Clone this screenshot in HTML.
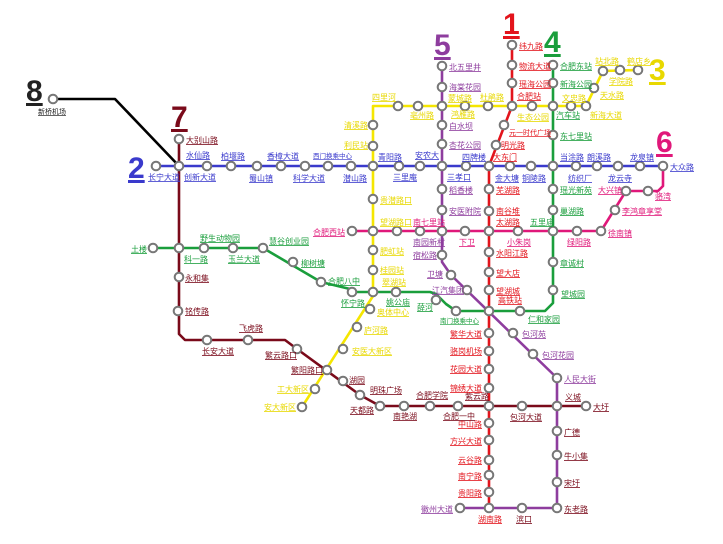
<!DOCTYPE html>
<html><head><meta charset="utf-8"><style>
html,body{margin:0;padding:0;background:#fff;width:723px;height:544px;overflow:hidden}
svg{display:block}
text{font-family:"Liberation Sans","Noto Sans CJK SC",sans-serif;font-size:8px;text-decoration:underline}
.s{fill:#fff;stroke:#777;stroke-width:2}
.n{font-size:30px;font-weight:bold}
.bl{fill:#3a3acc}.rd{fill:#e3141c}.gr{fill:#1a9e3c}.ye{fill:#e8d800}.pu{fill:#8e3d9e}.pk{fill:#e0187a}.dr{fill:#7a0a1a}.bk{fill:#222}
</style></head><body>
<svg width="723" height="544" viewBox="0 0 723 544" xmlns="http://www.w3.org/2000/svg">
<g fill="none" stroke-width="2.6" stroke-linejoin="round">
<!-- line 8 -->
<polyline stroke="#000" points="53,99 115,99 179,166"/>
<!-- line 7 -->
<polyline stroke="#7a0a1a" points="179,139 179,334 185,340 285,340 297,349 360,395 380,406 586,406"/>
<!-- line 2 -->
<polyline stroke="#3a3acc" points="156,166 663,166"/>
<!-- line 1 -->
<polyline stroke="#e3141c" points="512,45 512,106 489,166 489,508"/>
<!-- line 4 -->
<polyline stroke="#1a9e3c" points="553,65 553,303 545,311 456,311 446,304 436,294 430,292 356,292 350,289 321,282 263,248 153,248"/>
<!-- line 3 -->
<polyline stroke="#f5e600" points="638,70 603,71 586,106 373,106 373,296 302,407"/>
<!-- line 5 -->
<polyline stroke="#8e3d9e" points="442,66 442,262 451,275 557,378 557,508 460,508"/>
<!-- line 6 -->
<polyline stroke="#e0187a" points="352,231 601,231 626,191 658,191 663,186 663,166"/>
</g>
<g class="s-all">
<!-- 8 -->
<circle class="s" cx="53" cy="99" r="4.3"/>
<!-- 7 -->
<circle class="s" cx="179" cy="139" r="4.3"/><circle class="s" cx="179" cy="166" r="4.3"/><circle class="s" cx="179" cy="248" r="4.3"/><circle class="s" cx="179" cy="277" r="4.3"/><circle class="s" cx="178" cy="311" r="4.3"/><circle class="s" cx="207" cy="340" r="4.3"/><circle class="s" cx="248" cy="340" r="4.3"/><circle class="s" cx="297" cy="349" r="4.3"/><circle class="s" cx="327" cy="370" r="4.3"/><circle class="s" cx="343" cy="381" r="4.3"/><circle class="s" cx="360" cy="395" r="4.3"/><circle class="s" cx="380" cy="406" r="4.3"/><circle class="s" cx="404" cy="406" r="4.3"/><circle class="s" cx="430" cy="406" r="4.3"/><circle class="s" cx="458" cy="406" r="4.3"/><circle class="s" cx="489" cy="406" r="4.3"/><circle class="s" cx="522" cy="406" r="4.3"/><circle class="s" cx="557" cy="406" r="4.3"/><circle class="s" cx="586" cy="406" r="4.3"/>
<!-- 2 -->
<circle class="s" cx="156" cy="166" r="4.3"/><circle class="s" cx="207" cy="166" r="4.3"/><circle class="s" cx="231" cy="166" r="4.3"/><circle class="s" cx="257" cy="166" r="4.3"/><circle class="s" cx="281" cy="166" r="4.3"/><circle class="s" cx="305" cy="166" r="4.3"/><circle class="s" cx="328" cy="166" r="4.3"/><circle class="s" cx="351" cy="166" r="4.3"/><circle class="s" cx="373" cy="166" r="4.3"/><circle class="s" cx="399" cy="166" r="4.3"/><circle class="s" cx="420" cy="166" r="4.3"/><circle class="s" cx="442" cy="166" r="4.3"/><circle class="s" cx="466" cy="166" r="4.3"/><circle class="s" cx="489" cy="166" r="4.3"/><circle class="s" cx="510" cy="166" r="4.3"/><circle class="s" cx="531" cy="166" r="4.3"/><circle class="s" cx="553" cy="166" r="4.3"/><circle class="s" cx="576" cy="166" r="4.3"/><circle class="s" cx="597" cy="166" r="4.3"/><circle class="s" cx="618" cy="166" r="4.3"/><circle class="s" cx="640" cy="166" r="4.3"/><circle class="s" cx="663" cy="166" r="4.3"/>
<!-- 1 -->
<circle class="s" cx="512" cy="45" r="4.3"/><circle class="s" cx="512" cy="65" r="4.3"/><circle class="s" cx="512" cy="83" r="4.3"/><circle class="s" cx="512" cy="106" r="4.3"/><circle class="s" cx="504" cy="125" r="4.3"/><circle class="s" cx="496" cy="145" r="4.3"/><circle class="s" cx="489" cy="189" r="4.3"/><circle class="s" cx="489" cy="211" r="4.3"/><circle class="s" cx="489" cy="231" r="4.3"/><circle class="s" cx="489" cy="252" r="4.3"/><circle class="s" cx="489" cy="272" r="4.3"/><circle class="s" cx="489" cy="290" r="4.3"/><circle class="s" cx="489" cy="311" r="4.3"/><circle class="s" cx="489" cy="333" r="4.3"/><circle class="s" cx="489" cy="351" r="4.3"/><circle class="s" cx="489" cy="369" r="4.3"/><circle class="s" cx="489" cy="388" r="4.3"/><circle class="s" cx="489" cy="423" r="4.3"/><circle class="s" cx="489" cy="440" r="4.3"/><circle class="s" cx="489" cy="460" r="4.3"/><circle class="s" cx="489" cy="475" r="4.3"/><circle class="s" cx="489" cy="492" r="4.3"/><circle class="s" cx="489" cy="508" r="4.3"/>
<!-- 4 -->
<circle class="s" cx="553" cy="65" r="4.3"/><circle class="s" cx="553" cy="83" r="4.3"/><circle class="s" cx="553" cy="106" r="4.3"/><circle class="s" cx="553" cy="135" r="4.3"/><circle class="s" cx="553" cy="189" r="4.3"/><circle class="s" cx="553" cy="210" r="4.3"/><circle class="s" cx="553" cy="231" r="4.3"/><circle class="s" cx="553" cy="262" r="4.3"/><circle class="s" cx="553" cy="290" r="4.3"/><circle class="s" cx="520" cy="311" r="4.3"/><circle class="s" cx="456" cy="311" r="4.3"/><circle class="s" cx="436" cy="300" r="4.3"/><circle class="s" cx="396" cy="292" r="4.3"/><circle class="s" cx="373" cy="292" r="4.3"/><circle class="s" cx="352" cy="292" r="4.3"/><circle class="s" cx="321" cy="282" r="4.3"/><circle class="s" cx="293" cy="262" r="4.3"/><circle class="s" cx="263" cy="248" r="4.3"/><circle class="s" cx="233" cy="248" r="4.3"/><circle class="s" cx="204" cy="248" r="4.3"/><circle class="s" cx="153" cy="248" r="4.3"/>
<!-- 3 -->
<circle class="s" cx="638" cy="70" r="4.3"/><circle class="s" cx="620" cy="70" r="4.3"/><circle class="s" cx="603" cy="71" r="4.3"/><circle class="s" cx="594" cy="88" r="4.3"/><circle class="s" cx="586" cy="106" r="4.3"/><circle class="s" cx="571" cy="106" r="4.3"/><circle class="s" cx="532" cy="106" r="4.3"/><circle class="s" cx="488" cy="106" r="4.3"/><circle class="s" cx="465" cy="106" r="4.3"/><circle class="s" cx="442" cy="106" r="4.3"/><circle class="s" cx="418" cy="106" r="4.3"/><circle class="s" cx="398" cy="106" r="4.3"/><circle class="s" cx="373" cy="125" r="4.3"/><circle class="s" cx="373" cy="146" r="4.3"/><circle class="s" cx="373" cy="199" r="4.3"/><circle class="s" cx="373" cy="231" r="4.3"/><circle class="s" cx="373" cy="250" r="4.3"/><circle class="s" cx="373" cy="270" r="4.3"/><circle class="s" cx="370" cy="309" r="4.3"/><circle class="s" cx="357" cy="327" r="4.3"/><circle class="s" cx="343" cy="349" r="4.3"/><circle class="s" cx="315" cy="389" r="4.3"/><circle class="s" cx="302" cy="407" r="4.3"/>
<!-- 5 -->
<circle class="s" cx="442" cy="66" r="4.3"/><circle class="s" cx="442" cy="87" r="4.3"/><circle class="s" cx="442" cy="125" r="4.3"/><circle class="s" cx="442" cy="144" r="4.3"/><circle class="s" cx="442" cy="189" r="4.3"/><circle class="s" cx="442" cy="210" r="4.3"/><circle class="s" cx="442" cy="255" r="4.3"/><circle class="s" cx="451" cy="275" r="4.3"/><circle class="s" cx="467" cy="290" r="4.3"/><circle class="s" cx="513" cy="333" r="4.3"/><circle class="s" cx="533" cy="354" r="4.3"/><circle class="s" cx="557" cy="378" r="4.3"/><circle class="s" cx="557" cy="431" r="4.3"/><circle class="s" cx="557" cy="455" r="4.3"/><circle class="s" cx="557" cy="482" r="4.3"/><circle class="s" cx="557" cy="508" r="4.3"/><circle class="s" cx="522" cy="508" r="4.3"/><circle class="s" cx="460" cy="508" r="4.3"/>
<!-- 6 -->
<circle class="s" cx="352" cy="231" r="4.3"/><circle class="s" cx="397" cy="231" r="4.3"/><circle class="s" cx="420" cy="231" r="4.3"/><circle class="s" cx="442" cy="231" r="4.3"/><circle class="s" cx="465" cy="231" r="4.3"/><circle class="s" cx="518" cy="231" r="4.3"/><circle class="s" cx="577" cy="231" r="4.3"/><circle class="s" cx="601" cy="231" r="4.3"/><circle class="s" cx="615" cy="210" r="4.3"/><circle class="s" cx="626" cy="191" r="4.3"/><circle class="s" cx="648" cy="191" r="4.3"/>
</g>
<!-- line numbers -->
<text class="n bk" x="26" y="101">8</text>
<text class="n dr" x="171" y="127">7</text>
<text class="n bl" x="128" y="178">2</text>
<text class="n pu" x="434" y="55">5</text>
<text class="n rd" x="503" y="34">1</text>
<text class="n gr" x="544" y="52">4</text>
<text class="n ye" x="649" y="80">3</text>
<text class="n pk" x="656" y="152">6</text>
<!-- labels line 8 / 7 -->
<text class="bk" x="38" y="114" style="font-size:7px">新桥机场</text>
<text class="dr" x="186" y="143">大别山路</text>
<text class="dr" x="185" y="281">永和集</text>
<text class="dr" x="185" y="314">铭传路</text>
<text class="dr" x="202" y="354">长安大道</text>
<text class="dr" x="239" y="331">飞虎路</text>
<text class="dr" x="265" y="358">繁云路口</text>
<text class="dr" x="291" y="373">繁阳路口</text>
<text class="dr" x="349" y="383">湖园</text>
<text class="dr" x="350" y="413">天都路</text>
<text class="dr" x="370" y="393">明珠广场</text>
<text class="dr" x="393" y="419">南艳湖</text>
<text class="dr" x="416" y="398">合肥学院</text>
<text class="dr" x="443" y="419">合肥一中</text>
<text class="dr" x="465" y="399">紫云路</text>
<text class="dr" x="510" y="420">包河大道</text>
<text class="dr" x="565" y="400">义城</text>
<text class="dr" x="593" y="410">大圩</text>
<!-- line 2 -->
<text class="bl" x="148" y="180">长宁大道</text>
<text class="bl" x="186" y="158">水仙路</text>
<text class="bl" x="184" y="180">创新大道</text>
<text class="bl" x="221" y="159">柏堰路</text>
<text class="bl" x="249" y="181">蜀山镇</text>
<text class="bl" x="267" y="159">香樟大道</text>
<text class="bl" x="293" y="181">科学大道</text>
<text class="bl" x="313" y="158" style="font-size:6.5px">西门换乘中心</text>
<text class="bl" x="343" y="181">潜山路</text>
<text class="bl" x="378" y="160">青阳路</text>
<text class="bl" x="393" y="180">三里庵</text>
<text class="bl" x="415" y="158">安农大</text>
<text class="bl" x="447" y="180">三孝口</text>
<text class="bl" x="462" y="160">四牌楼</text>
<text class="rd" x="493" y="160">大东门</text>
<text class="bl" x="495" y="181">金大塘</text>
<text class="bl" x="522" y="181">铜陵路</text>
<text class="bl" x="560" y="160">当涂路</text>
<text class="bl" x="568" y="181">纺织厂</text>
<text class="bl" x="587" y="160">朗溪路</text>
<text class="bl" x="608" y="181">龙云寺</text>
<text class="bl" x="630" y="160">龙泉镇</text>
<text class="bl" x="670" y="170">大众路</text>
<!-- line 1 -->
<text class="rd" x="519" y="49">纬九路</text>
<text class="rd" x="519" y="69">物流大道</text>
<text class="rd" x="519" y="87">瑶海公园</text>
<text class="rd" x="517" y="99">合肥站</text>
<text class="rd" x="509" y="135" style="font-size:7px">元一时代广场</text>
<text class="rd" x="501" y="148">明光路</text>
<text class="rd" x="496" y="193">芜湖路</text>
<text class="rd" x="496" y="214">南谷堆</text>
<text class="rd" x="496" y="225">太湖路</text>
<text class="rd" x="496" y="256">水阳江路</text>
<text class="rd" x="496" y="276">望大店</text>
<text class="rd" x="496" y="294">望湖城</text>
<text class="rd" x="498" y="303">高铁站</text>
<g text-anchor="end">
<text class="rd" x="482" y="337">繁华大道</text>
<text class="rd" x="482" y="354">骆岗机场</text>
<text class="rd" x="482" y="372">花园大道</text>
<text class="rd" x="482" y="391">锦绣大道</text>
<text class="rd" x="482" y="427">中山路</text>
<text class="rd" x="482" y="444">方兴大道</text>
<text class="rd" x="482" y="463">云谷路</text>
<text class="rd" x="482" y="479">南宁路</text>
<text class="rd" x="482" y="496">贵阳路</text>
<text class="pu" x="453" y="512">徽州大道</text>
<text class="pk" x="345" y="235">合肥西站</text>
<text class="ye" x="368" y="128">清溪路</text>
<text class="ye" x="368" y="148">利民站</text>
<text class="ye" x="309" y="392">工大新区</text>
<text class="ye" x="296" y="410">安大新区</text>
<text class="pu" x="437" y="258">宿松路</text>
<text class="pu" x="443" y="277">卫塘</text>
<text class="gr" x="147" y="252">土楼</text>
</g>
<text class="rd" x="478" y="522">湖南路</text>
<!-- line 4 -->
<text class="gr" x="560" y="69">合肥东站</text>
<text class="gr" x="560" y="87">新海公园</text>
<text class="gr" x="556" y="118">汽车站</text>
<text class="gr" x="560" y="139">东七里站</text>
<text class="gr" x="560" y="193">瑶光新苑</text>
<text class="gr" x="560" y="214">巢湖路</text>
<text class="gr" x="530" y="225">五里庙</text>
<text class="gr" x="560" y="266">章诚村</text>
<text class="gr" x="561" y="297">望城园</text>
<text class="gr" x="528" y="322">仁和家园</text>
<text class="gr" x="440" y="323" style="font-size:6.5px">南门换乘中心</text>
<text class="gr" x="417" y="310">薛河</text>
<text class="gr" x="386" y="305">姚公庙</text>
<text class="gr" x="341" y="306">怀宁路</text>
<text class="gr" x="328" y="284">合肥八中</text>
<text class="gr" x="301" y="266">柳树塘</text>
<text class="gr" x="269" y="244">慧谷创业园</text>
<text class="gr" x="228" y="262">玉兰大道</text>
<text class="gr" x="200" y="241">野生动物园</text>
<text class="gr" x="184" y="262">科一路</text>
<!-- line 3 -->
<text class="ye" x="595" y="64">站北路</text>
<text class="ye" x="627" y="64">鹤店乡</text>
<text class="ye" x="609" y="84">学院路</text>
<text class="ye" x="600" y="98">天水路</text>
<text class="ye" x="590" y="118">新海大道</text>
<text class="ye" x="562" y="101">文忠路</text>
<text class="ye" x="517" y="120">生态公园</text>
<text class="ye" x="480" y="100">杜鹃路</text>
<text class="ye" x="448" y="101">蒙城路</text>
<text class="ye" x="451" y="117">鸿雁路</text>
<text class="ye" x="410" y="118">亳州路</text>
<text class="ye" x="372" y="100">四里河</text>
<text class="ye" x="380" y="203">贵潜路口</text>
<text class="ye" x="380" y="225">望湖路口</text>
<text class="ye" x="380" y="254">肥虹站</text>
<text class="ye" x="380" y="273">桂园站</text>
<text class="ye" x="382" y="285">翠湖站</text>
<text class="ye" x="377" y="315">奥体中心</text>
<text class="ye" x="364" y="333">庐河路</text>
<text class="ye" x="352" y="354">安医大新区</text>
<!-- line 5 -->
<text class="pu" x="449" y="70">北五里井</text>
<text class="pu" x="449" y="90">海棠花园</text>
<text class="pu" x="449" y="129">白水坝</text>
<text class="pu" x="449" y="148">杏花公园</text>
<text class="pu" x="449" y="193">稻香楼</text>
<text class="pu" x="449" y="214">安医附院</text>
<text class="pu" x="413" y="245">南园新村</text>
<text class="pk" x="413" y="225">南七里站</text>
<text class="pu" x="432" y="293">江汽集团</text>
<text class="pu" x="522" y="337">包河苑</text>
<text class="pu" x="542" y="358">包河花园</text>
<text class="pu" x="564" y="382">人民大街</text>
<text class="dr" x="564" y="435">广德</text>
<text class="dr" x="564" y="459">牛小集</text>
<text class="dr" x="564" y="486">宋圩</text>
<text class="dr" x="564" y="512">东老路</text>
<text class="dr" x="516" y="522">滨口</text>
<!-- line 6 -->
<text class="pk" x="459" y="245">下卫</text>
<text class="pk" x="507" y="245">小朱岗</text>
<text class="pk" x="567" y="245">绿阳路</text>
<text class="pk" x="608" y="236">徐南镇</text>
<text class="pk" x="622" y="214">李鸿章享堂</text>
<text class="pk" x="598" y="193">大兴镇</text>
<text class="pk" x="655" y="199">骆湾</text>
</svg>
</body></html>
